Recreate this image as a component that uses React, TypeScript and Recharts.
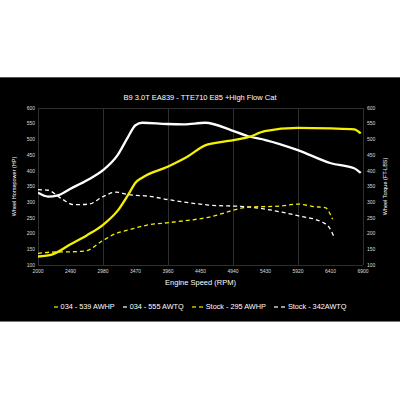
import React from "react";
import { LineChart, Line, XAxis, YAxis, CartesianGrid } from "recharts";

const rpmTicks = [2000, 2490, 2980, 3470, 3960, 4450, 4940, 5430, 5920, 6410, 6900];
const valueTicks = [100, 150, 200, 250, 300, 350, 400, 450, 500, 550, 600];

// 034 - 539 AWHP (yellow solid)
const hpTunedRpm = [2000, 2220, 2490, 2740, 2980, 3220, 3370, 3470, 3570, 3944, 4244, 4520, 4869, 5168, 5418, 5917, 6416, 6766, 6866];
const hpTunedVal = [127, 134, 166, 195, 228, 278, 327, 362, 378, 412, 444, 481, 495, 507, 526, 537, 535, 532, 519];

// 034 - 555 AWTQ (white solid)
const tqTunedRpm = [2000, 2150, 2300, 2490, 2740, 2980, 3200, 3350, 3470, 3570, 3944, 4200, 4520, 4918, 5168, 5430, 5917, 6416, 6766, 6866];
const tqTunedVal = [330, 318, 322, 343, 370, 402, 450, 505, 545, 553, 549, 548, 553, 529, 510, 498, 466, 424, 408, 393];

// Stock - 295 AWHP (yellow dashed)
const hpStockRpm = [2000, 2200, 2490, 2720, 2971, 3170, 3370, 3670, 3970, 4570, 5168, 5667, 5917, 6167, 6340, 6390, 6441];
const hpStockVal = [137, 141, 142, 145, 177, 200, 212, 228, 235, 252, 284, 288, 294, 286, 282, 268, 246];

// Stock - 342AWTQ (white dashed)
const tqStockRpm = [2000, 2150, 2350, 2545, 2770, 2980, 3170, 3370, 3670, 3970, 4570, 5168, 5917, 6290, 6390, 6456];
const tqStockVal = [340, 338, 312, 292, 294, 318, 332, 324, 319, 308, 291, 285, 257, 236, 220, 193];

const build = (xs: number[], ys: number[]) => xs.map((x, i) => ({ rpm: x, v: ys[i] }));

const hpTuned = build(hpTunedRpm, hpTunedVal);
const tqTuned = build(tqTunedRpm, tqTunedVal);
const hpStock = build(hpStockRpm, hpStockVal);
const tqStock = build(tqStockRpm, tqStockVal);

const YELLOW = "#f6f000";
const WHITE = "#ffffff";
const FONT = "'Liberation Sans', Arial, sans-serif";

const legendItems = [
  { name: "034 - 539 AWHP", color: YELLOW, dashed: false },
  { name: "034 - 555 AWTQ", color: WHITE, dashed: false },
  { name: "Stock - 295 AWHP", color: YELLOW, dashed: true },
  { name: "Stock - 342AWTQ", color: WHITE, dashed: true },
];

export default function App() {
  return (
    <div style={{ position: "absolute", left: 0, top: 0, width: 400, height: 400, background: "#fff", fontFamily: FONT }}>
      <div
        style={{
          position: "absolute",
          left: 0,
          top: 77,
          width: 400,
          height: 245,
          background: "#000",
          borderTop: "1px solid #555",
          borderBottom: "1px solid #777",
          boxSizing: "border-box",
        }}
      >
        <div style={{ position: "absolute", top: 15, left: 0, width: 400, textAlign: "center", color: "#fff", fontSize: 7.5 }}>
          B9 3.0T EA839 - TTE710 E85 +High Flow Cat
        </div>
        <div style={{ position: "absolute", top: 0, left: 0 }}>
          <LineChart width={400} height={245} margin={{ top: 30, right: 0, bottom: 38, left: 0 }}>
            <CartesianGrid stroke="#2e2e2e" strokeWidth={1} vertical={true} horizontal={true} shapeRendering="crispEdges" />
            <XAxis
              type="number"
              dataKey="rpm"
              domain={[2000, 6900]}
              ticks={rpmTicks}
              allowDataOverflow
              tickLine={false}
              axisLine={false}
              tickSize={0}
              tickMargin={4}
              height={20}
              tick={{ fill: "#ddd", fontSize: 5, fontFamily: FONT }}
              label={{ value: "Engine Speed (RPM)", position: "insideBottom", offset: 0, fill: "#fff", fontSize: 7.5, fontFamily: FONT }}
            />
            <YAxis
              yAxisId="left"
              domain={[100, 600]}
              ticks={valueTicks}
              allowDataOverflow
              tickLine={false}
              axisLine={false}
              tickSize={0}
              tickMargin={3}
              width={38}
              tick={{ fill: "#ddd", fontSize: 5, fontFamily: FONT }}
              label={{ value: "Wheel Horsepower (HP)", angle: -90, position: "center", dx: -5, fill: "#fff", fontSize: 5.5, fontFamily: FONT }}
            />
            <YAxis
              yAxisId="right"
              orientation="right"
              domain={[100, 600]}
              ticks={valueTicks}
              allowDataOverflow
              tickLine={false}
              axisLine={false}
              tickSize={0}
              tickMargin={4}
              width={37}
              tick={{ fill: "#ddd", fontSize: 5, fontFamily: FONT }}
              label={{ value: "Wheel Torque (FT-LBS)", angle: -90, position: "center", dx: 4, fill: "#fff", fontSize: 5.5, fontFamily: FONT }}
            />
            <Line yAxisId="left" data={tqStock} dataKey="v" name="Stock - 342AWTQ" type="monotone" stroke={WHITE} strokeWidth={1.3} strokeDasharray="4 3" dot={false} isAnimationActive={false} />
            <Line yAxisId="left" data={hpStock} dataKey="v" name="Stock - 295 AWHP" type="monotone" stroke={YELLOW} strokeWidth={1.3} strokeDasharray="4 3" dot={false} isAnimationActive={false} />
            <Line yAxisId="left" data={tqTuned} dataKey="v" name="034 - 555 AWTQ" type="monotone" stroke={WHITE} strokeWidth={2.3} dot={false} isAnimationActive={false} />
            <Line yAxisId="left" data={hpTuned} dataKey="v" name="034 - 539 AWHP" type="monotone" stroke={YELLOW} strokeWidth={2.3} dot={false} isAnimationActive={false} />
          </LineChart>
        </div>
        <div
          style={{
            position: "absolute",
            top: 224,
            left: 0,
            width: 400,
            display: "flex",
            justifyContent: "center",
            alignItems: "center",
            color: "#fff",
            fontSize: 7.3,
            whiteSpace: "nowrap",
          }}
        >
          {legendItems.map((it, i) => (
            <span key={i} style={{ display: "inline-flex", alignItems: "center", marginRight: i < 3 ? 8 : 0 }}>
              <svg width={it.dashed ? 11 : 4} height={4} style={{ marginRight: 3 }}>
                {it.dashed ? (
                  <>
                    <line x1={0} y1={2} x2={4} y2={2} stroke={it.color} strokeWidth={1.2} />
                    <line x1={7} y1={2} x2={11} y2={2} stroke={it.color} strokeWidth={1.2} />
                  </>
                ) : (
                  <line x1={0} y1={2} x2={4} y2={2} stroke={it.color} strokeWidth={1.2} />
                )}
              </svg>
              {it.name}
            </span>
          ))}
        </div>
      </div>
    </div>
  );
}
